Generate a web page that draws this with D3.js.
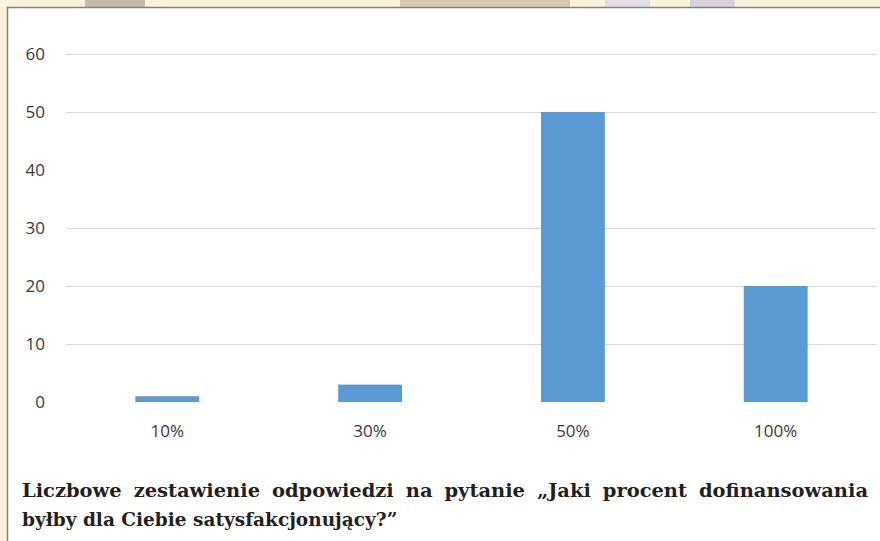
<!DOCTYPE html>
<html>
<head>
<meta charset="utf-8">
<script src="https://cdn.jsdelivr.net/npm/d3@7"></script>
<style>
  body { margin: 0; background: #fbf3dc; }
  svg { display: block; }
</style>
</head>
<body>
<div id="chart"></div>
<script>
// data
const categories = ['10%', '30%', '50%', '100%'];
const answers = [1, 3, 50, 20];
const y_ticks = [0, 10, 20, 30, 40, 50, 60];
const grid_ticks = [10, 20, 30, 50, 60];  // the 40 line is not visible in the scan
const caption_lines = [
  'Liczbowe zestawienie odpowiedzi na pytanie \u201EJaki procent dofinansowania',
  'by\u0142by dla Ciebie satysfakcjonuj\u0105cy?\u201D'
];

const width = 880;
const height = 541;
const margin = {top: 54, right: 3, bottom: 139, left: 66};

const svg = d3.select('#chart')
  .append('svg')
    .attr('width', width)
    .attr('height', height);

// page background strip at the top (photo fragments)
svg.append('rect').attr('x', 0).attr('y', 0).attr('width', width).attr('height', height).attr('fill', '#fbf3dc');
const blobs = [[85, 60, '#c9b9a8'], [400, 170, '#d8c7b0'], [605, 45, '#e2e0e6'], [690, 45, '#d6d2d8']];
blobs.forEach(b => {
  svg.append('rect').attr('x', b[0]).attr('y', 0).attr('width', b[1]).attr('height', 7).attr('fill', b[2]);
});

// white panel with border
svg.append('rect')
  .attr('x', 7.5).attr('y', 7.5)
  .attr('width', width).attr('height', height)
  .attr('fill', '#ffffff')
  .attr('stroke', '#6f8891')
  .attr('stroke-width', 1.5);

// scales
const x = d3.scaleBand()
  .domain(categories)
  .range([margin.left, width - margin.right])
  .paddingInner(0.685)
  .paddingOuter(0.342);

const y = d3.scaleLinear()
  .domain([0, 60])
  .range([height - margin.bottom, margin.top]);

// gridlines
svg.append('g')
  .attr('class', 'grid')
  .selectAll('line')
  .data(grid_ticks)
  .join('line')
    .attr('x1', margin.left)
    .attr('x2', width - margin.right)
    .attr('y1', d => Math.round(y(d)) + 0.5)
    .attr('y2', d => Math.round(y(d)) + 0.5)
    .attr('stroke', '#d9d9d9')
    .attr('stroke-width', 1);

const label_font = '"Open Sans", "Liberation Sans", sans-serif';

// y axis labels
const y_axis = svg.append('g')
  .attr('transform', 'translate(45,0)')
  .call(d3.axisLeft(y).tickValues(y_ticks).tickSize(0).tickPadding(0));
y_axis.select('.domain').remove();
y_axis.selectAll('text')
  .attr('fill', '#3a3a3a')
  .style('font-family', label_font)
  .style('font-size', '17px');

// bars
svg.append('g')
  .selectAll('rect')
  .data(answers)
  .join('rect')
    .attr('x', (d, i) => x(categories[i]))
    .attr('y', d => y(d))
    .attr('width', x.bandwidth())
    .attr('height', d => y(0) - y(d))
    .attr('fill', '#5b9bd5');

// x axis labels
const x_axis = svg.append('g')
  .attr('transform', 'translate(0,' + (y(0) + 19) + ')')
  .call(d3.axisBottom(x).tickSize(0).tickPadding(4));
x_axis.select('.domain').remove();
x_axis.selectAll('text')
  .attr('fill', '#3a3a3a')
  .style('font-family', label_font)
  .style('font-size', '17px');

// caption, first line justified to the panel width
const cap = svg.append('g')
  .style('font-family', '"DejaVu Serif", serif')
  .style('font-weight', 'bold')
  .style('font-size', '18.5px')
  .attr('fill', '#231f20');

caption_lines.forEach((line, i) => {
  const t = cap.append('text')
    .attr('x', 22)
    .attr('y', 497 + i * 29)
    .text(line);
  if (i === 0) {
    t.attr('word-spacing', 5)
      .attr('textLength', 846)
      .attr('lengthAdjust', 'spacingAndGlyphs');
  }
});
</script>
</body>
</html>
